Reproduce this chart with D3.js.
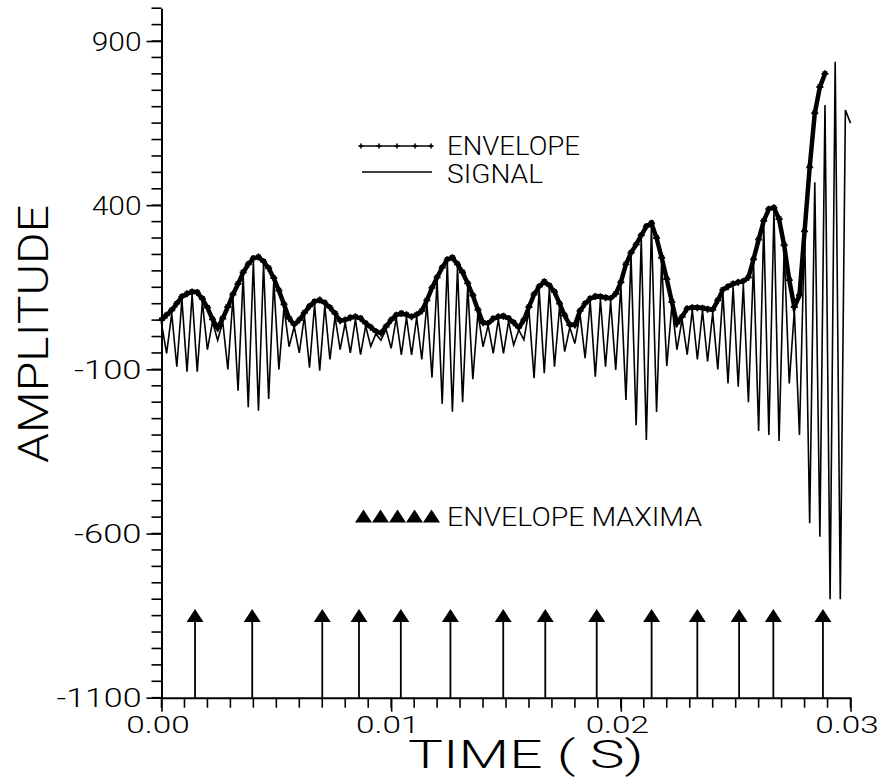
<!DOCTYPE html>
<meta charset="utf-8">
<head>
  <meta charset="utf-8">
  <script src="https://d3js.org/d3.v7.min.js"></script>
  <style>
    body { margin: 0; background: #fff; }
    text { font-family: Roboto, "DejaVu Sans", sans-serif; font-weight: 300; fill: #000; }
  </style>
</head>
<body>
  <svg width="887" height="777"></svg>
  <script>
    // time between two samples of the plotted series (s)
    var sampleStep = 0.03 / 135;

    // envelope, one value per sample
    var envelope = [
      50, 65, 80, 100, 121, 130, 136, 134, 115, 88,
      52, 26, 55, 90, 128, 160, 195, 220, 238, 242,
      228, 208, 178, 140, 98, 55, 36, 50, 72, 92,
      106, 111, 102, 88, 70, 48, 50, 57, 60, 55,
      40, 28, 15, 10, 30, 50, 65, 70, 66, 60,
      66, 78, 110, 148, 180, 210, 234, 240, 220, 195,
      162, 125, 81, 42, 40, 54, 60, 62, 55, 42,
      27, 50, 90, 128, 152, 167, 155, 136, 100, 64,
      35, 35, 78, 100, 115, 122, 121, 118, 116, 130,
      165, 220, 255, 280, 308, 335, 345, 300, 240, 175,
      105, 40, 60, 85, 88, 88, 86, 83, 81, 110,
      142, 152, 160, 165, 168, 180, 235, 295, 352, 388,
      392, 358, 278, 172, 90, 125, 320, 515, 680, 760,
      800
    ];

    // signal samples (peak, trough, peak, trough ...)
    var signal = [
      40, -51, 70, -92, 112, -107, 128, -107, 105, -40,
      45, -11, 45, -100, 118, -165, 185, -215, 230, -226,
      220, -190, 168, -100, 88, -31, 30, -50, 62, -95,
      98, -104, 94, -70, 60, -40, 42, -50, 52, -55,
      32, -30, 8, -11, 22, -36, 56, -56, 58, -56,
      58, -70, 100, -125, 170, -205, 225, -229, 210, -200,
      152, -130, 72, -31, 34, -51, 52, -51, 46, -26,
      20, -10, 80, -127, 142, -112, 146, -92, 90, -46,
      28, -21, 68, -66, 106, -122, 112, -92, 106, -102,
      155, -193, 245, -270, 298, -315, 335, -230, 230, -90,
      95, -40, 52, -55, 80, -70, 78, -76, 72, -100,
      132, -143, 150, -153, 158, -200, 225, -288, 340, -300,
      380, -318, 265, -143, 80, -300, 330, -569, 470, -610,
      705, -800, 837, -800, 690, 650
    ];

    // times of the envelope maxima (s)
    var maximaTimes = [0.00146, 0.00395, 0.00700, 0.00860, 0.01042, 0.01258, 0.01488,
                       0.01671, 0.01895, 0.02134, 0.02333, 0.02515, 0.02664, 0.02880];
    var maximaLevel = -850;

    var yMajor = [-1100, -600, -100, 400, 900];
    var xMajor = [0, 0.01, 0.02, 0.03];
    var xLabels = ["0.00", "0.01", "0.02", "0.03"];

    var svg = d3.select("svg");
    var x = d3.scaleLinear().domain([0, 0.03]).range([161.5, 850.5]);
    var y = d3.scaleLinear().domain([-1100, 1000]).range([697.7, 8.2]);

    // stretch a label to the wide plotter lettering
    function fit(sel, pitch) {
      sel.attr("textLength", function() { return this.textContent.length * pitch - 3; })
         .attr("lengthAdjust", "spacingAndGlyphs");
    }

    // minor ticks
    var yMinor = d3.range(-1100, 1001, 50);
    var xMinor = d3.range(0, 31).map(function(d) { return d / 1000; });
    svg.append("g").selectAll("line").data(yMinor).enter().append("line")
      .attr("x1", x(0) - 10).attr("x2", x(0))
      .attr("y1", function(d) { return y(d); }).attr("y2", function(d) { return y(d); })
      .attr("stroke", "#000").attr("stroke-width", 1.6);
    svg.append("g").selectAll("line").data(xMinor).enter().append("line")
      .attr("x1", function(d) { return x(d); }).attr("x2", function(d) { return x(d); })
      .attr("y1", y(-1100)).attr("y2", y(-1100) + 10)
      .attr("stroke", "#000").attr("stroke-width", 1.6);

    // major axes
    var gy = svg.append("g").attr("transform", "translate(161.5,0)");
    gy.call(d3.axisLeft(y).tickValues(yMajor).tickSize(15).tickSizeOuter(0).tickPadding(5)
      .tickFormat(function(d) { return String(d); }));
    gy.selectAll("text").style("font-size", "25px").attr("dy", "0.36em");
    fit(gy.selectAll("text"), 17.6);

    var gx = svg.append("g").attr("transform", "translate(0,697.7)");
    gx.call(d3.axisBottom(x).tickValues(xMajor).tickSize(14).tickSizeOuter(0).tickPadding(4)
      .tickFormat(function(d, i) { return xLabels[i]; }));
    gx.selectAll("text").style("font-size", "24px").attr("dy", "0.73em").attr("x", -4);
    fit(gx.selectAll("text"), 16.6);

    svg.selectAll(".domain").attr("stroke", "#000").attr("stroke-width", 2);
    svg.selectAll(".tick line").attr("stroke", "#000").attr("stroke-width", 1.6);

    svg.append("text").attr("x", 408).attr("y", 768).style("font-size", "38px")
      .text("TIME ( S)").call(fit, 26.5);
    svg.append("text").attr("transform", "translate(48,334) rotate(-90)").attr("text-anchor", "middle")
      .style("font-size", "42px").text("AMPLITUDE").call(fit, 29);

    // signal
    var line = d3.line().x(function(d, i) { return x(i * sampleStep); }).y(function(d) { return y(d); });
    svg.append("path").datum(signal).attr("d", line)
      .attr("fill", "none").attr("stroke", "#000").attr("stroke-width", 1.6);

    // envelope with + marks
    var plus = "M-3.5,0H3.5M0,-3.5V3.5M-2.5,-1.8H2.5";
    svg.append("path").datum(envelope).attr("d", line)
      .attr("fill", "none").attr("stroke", "#000").attr("stroke-width", 4.5);
    svg.append("g").selectAll("path").data(envelope).enter().append("path")
      .attr("transform", function(d, i) { return "translate(" + x(i * sampleStep) + "," + y(d) + ")"; })
      .attr("d", plus).attr("stroke", "#000").attr("stroke-width", 1.8).attr("fill", "none");

    // envelope maxima arrows
    var tri = "M0,-6.5L8.5,6.5H-8.5Z";
    var arrows = svg.append("g").selectAll("g").data(maximaTimes).enter().append("g");
    arrows.append("line")
      .attr("x1", function(d) { return x(d); }).attr("x2", function(d) { return x(d); })
      .attr("y1", y(-1100)).attr("y2", y(maximaLevel))
      .attr("stroke", "#000").attr("stroke-width", 1.8);
    arrows.append("path")
      .attr("transform", function(d) { return "translate(" + x(d) + "," + y(maximaLevel) + ")"; })
      .attr("d", tri).attr("fill", "#000");

    // legends
    var leg = svg.append("g");
    leg.append("line").attr("x1", 359).attr("x2", 433).attr("y1", 146).attr("y2", 146)
      .attr("stroke", "#000").attr("stroke-width", 1.5);
    [361, 379, 397, 415, 431].forEach(function(px) {
      leg.append("path").attr("transform", "translate(" + px + ",146)")
        .attr("d", "M-2.5,0H2.5M0,-2.5V2.5").attr("stroke", "#000").attr("stroke-width", 1.6);
    });
    leg.append("line").attr("x1", 362).attr("x2", 432).attr("y1", 172).attr("y2", 172)
      .attr("stroke", "#000").attr("stroke-width", 1.3);
    leg.append("text").attr("x", 447).attr("y", 155).style("font-size", "25px").text("ENVELOPE").call(fit, 17);
    leg.append("text").attr("x", 447).attr("y", 183).style("font-size", "25px").text("SIGNAL").call(fit, 16.5);
    [363.5, 380.5, 397.5, 414.5, 431.5].forEach(function(px) {
      leg.append("path").attr("transform", "translate(" + px + ",516)").attr("d", tri).attr("fill", "#000");
    });
    leg.append("text").attr("x", 447).attr("y", 526).style("font-size", "25px")
      .text("ENVELOPE MAXIMA").call(fit, 17.2);
  </script>
</body>
